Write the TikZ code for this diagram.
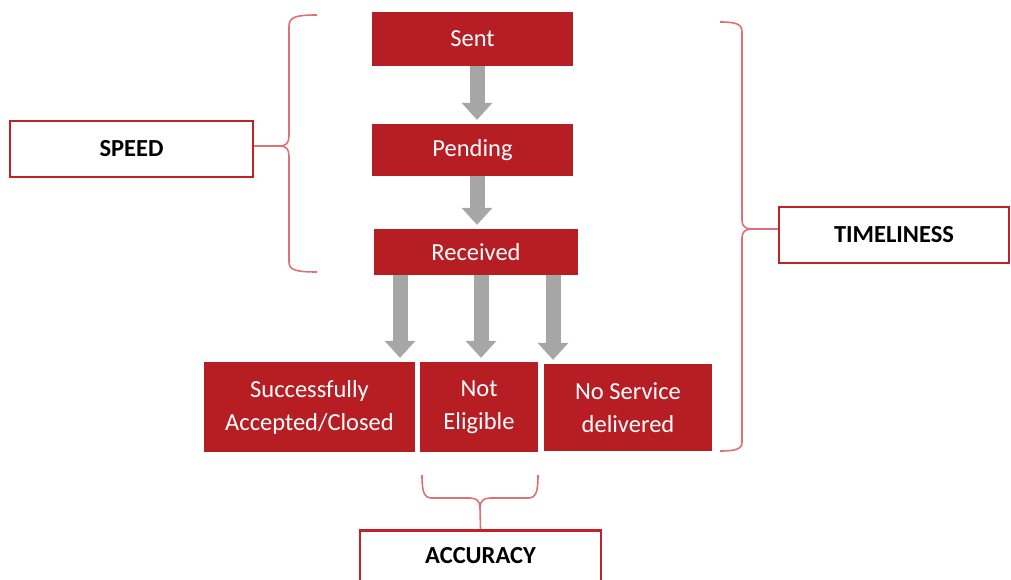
\documentclass[tikz,border=0pt]{standalone}
\usepackage{fontspec}
\setmainfont{Carlito}
\usetikzlibrary{arrows.meta}
\definecolor{stagered}{RGB}{183,30,36}
\definecolor{framered}{RGB}{196,32,40}
\definecolor{bracered}{RGB}{224,112,116}
\definecolor{flowgray}{RGB}{166,166,166}
\tikzset{
  stage/.style={fill=stagered, draw=none, text=white, align=center, inner sep=0pt,
    font=\fontsize{24.5}{33}\selectfont},
  measure/.style={draw=framered, line width=2.5pt, fill=white, inner sep=0pt,
    font=\fontsize{24.5}{28}\selectfont\bfseries},
  flow/.style={draw=flowgray, line width=15pt, shorten >=4pt,
    -{Triangle[width=31pt,length=17pt,line width=0pt]}},
  brace/.style={draw=bracered, line width=1.6pt}
}
\begin{document}
\begin{tikzpicture}[x=1pt,y=-1pt]
  \useasboundingbox (0,0) rectangle (1011,580);
  \node[stage, minimum width=201pt, minimum height=54pt] (sent) at (472.5,39) {Sent};
  \node[stage, minimum width=201pt, minimum height=52pt] (pending) at (472.5,150) {Pending};
  \node[stage, minimum width=204pt, minimum height=46pt] (received) at (476,252) {Received};
  \node[stage, minimum width=211pt, minimum height=90pt] (succ) at (309.5,407) {Successfully\\Accepted/Closed};
  \node[stage, minimum width=118pt, minimum height=90pt] (noteligible) at (479,407) {Not\\Eligible};
  \node[stage, minimum width=168pt, minimum height=87pt] (noservice) at (628,407.5) {No Service\\delivered};
  \node[measure, minimum width=243pt, minimum height=56pt] (speed) at (131.5,149) {SPEED};
  \node[measure, minimum width=230pt, minimum height=56pt] (timeliness) at (894,235) {TIMELINESS};
  \node[measure, minimum width=241pt, minimum height=60pt, text depth=10pt, anchor=north] (accuracy) at (480.5,529) {ACCURACY};
  \coordinate (speedtip) at (280,146);
  \coordinate (timetip) at (752,229);
  \coordinate (acctip) at (480,507);
  \begin{scope}
    \draw[flow] ([xshift=4.5pt]sent.south) -- ([xshift=4.5pt]pending.north);
    \draw[flow] ([xshift=4.5pt]pending.south) -- ([xshift=4.5pt]pending.south |- received.north);
    \draw[flow] ([xshift=-76pt]received.south) -- ([xshift=-76pt]received.south |- succ.north);
    \draw[flow] ([xshift=5pt]received.south) -- ([xshift=5pt]received.south |- noteligible.north);
    \draw[flow] ([xshift=77pt]received.south) -- ([xshift=77pt]received.south |- noservice.north);
  \end{scope}
  \begin{scope}[brace]
    \draw (317,15) .. controls (296,15) and (289,17) .. (289,26) -- (289,136)
      .. controls (289,143) and (286,146) .. (speedtip)
      .. controls (286,146) and (289,149) .. (289,156) -- (289,262)
      .. controls (289,270) and (296,272) .. (317,272);
    \draw (speed.east |- speedtip) -- (speedtip);
    \draw (720,22) .. controls (736,22) and (742,24) .. (742,32) -- (742,220)
      .. controls (742,226) and (745,229) .. (timetip)
      .. controls (745,229) and (742,232) .. (742,238) -- (742,442)
      .. controls (742,449) and (736,451) .. (720,451);
    \draw (timetip) -- (timetip -| timeliness.west);
    \draw (422,475) .. controls (422,492) and (424,498) .. (432,498) -- (470,498)
      .. controls (476,498) and (480,501) .. (acctip)
      .. controls (480,501) and (484,498) .. (490,498) -- (528,498)
      .. controls (536,498) and (538,492) .. (538,475);
    \draw (acctip) -- (accuracy.north);
  \end{scope}
\end{tikzpicture}
\end{document}
